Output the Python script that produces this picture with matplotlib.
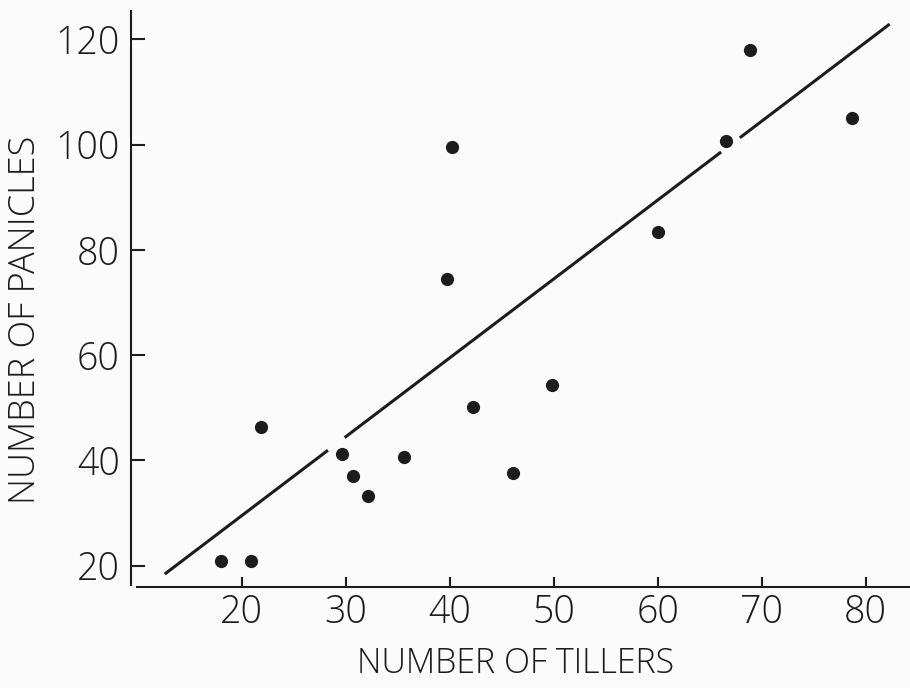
import matplotlib
matplotlib.use("Agg")
import matplotlib.pyplot as plt
import numpy as np

# Data
tillers = [18.0, 20.9, 21.9, 29.6, 30.7, 32.1, 35.6, 39.7, 40.2, 42.2, 46.1, 49.8, 60.0, 66.6, 68.9, 78.7]
panicles = [20.9, 20.9, 46.4, 41.2, 37.0, 33.2, 40.7, 74.5, 99.6, 50.1, 37.7, 54.3, 83.4, 100.7, 118.0, 105.0]

# Regression line y = intercept + slope * x, drawn in broken segments
reg_intercept = -0.49
reg_slope = 1.4993
reg_segments = [(12.6, 28.3), (29.9, 66.1), (67.9, 82.3)]

x_ticks = [20, 30, 40, 50, 60, 70, 80]
y_ticks = [20, 40, 60, 80, 100, 120]
x_label = "NUMBER OF TILLERS"
y_label = "NUMBER OF PANICLES"

ink = "#1c1c1c"
bg = "#fbfbfb"
font = ["Open Sans", "DejaVu Sans"]
plt.rcParams["font.family"] = font
plt.rcParams["font.weight"] = "light"

fig = plt.figure(figsize=(9.10, 6.88), dpi=100, facecolor=bg)
ax = fig.add_axes([131/910, 1-587/688, 1-131/910, (587-11)/688])
ax.set_facecolor(bg)

ax.set_xlim(9.36, 84.26)
ax.set_ylim(15.95, 125.4)

for x0, x1 in reg_segments:
    xs = np.array([x0, x1])
    ax.plot(xs, reg_intercept + reg_slope * xs, color=ink, lw=2.2, solid_capstyle="butt")

ax.plot(tillers, panicles, "o", color=ink, markersize=9.5, markeredgewidth=0)

for s in ["top", "right"]:
    ax.spines[s].set_visible(False)
ax.spines["left"].set_bounds(16.3, 125.4)
ax.spines["bottom"].set_bounds(9.94, 84.26)
for s in ["left", "bottom"]:
    ax.spines[s].set_linewidth(1.5)
    ax.spines[s].set_color(ink)

ax.set_xticks(x_ticks)
ax.set_yticks(y_ticks)
ax.tick_params(axis="y", which="major", direction="in", length=10, width=1.5,
               color=ink, pad=8, labelsize=27, labelcolor=ink)
ax.tick_params(axis="x", which="major", direction="in", length=7, width=1.5,
               color=ink, pad=5, labelsize=27, labelcolor=ink)
for lab in ax.get_xticklabels() + ax.get_yticklabels():
    lab.set_family(font)
    lab.set_weight("light")

fig.text(516/910, 1-664/688, x_label, ha="center", va="center", fontsize=24.5,
         color=ink, family=font, weight="light")
fig.text(25.5/910, 1-320/688, y_label, ha="center", va="center", rotation=90,
         fontsize=26, color=ink, family=font, weight="light")

fig.savefig("out.png", dpi=100, facecolor=bg)
